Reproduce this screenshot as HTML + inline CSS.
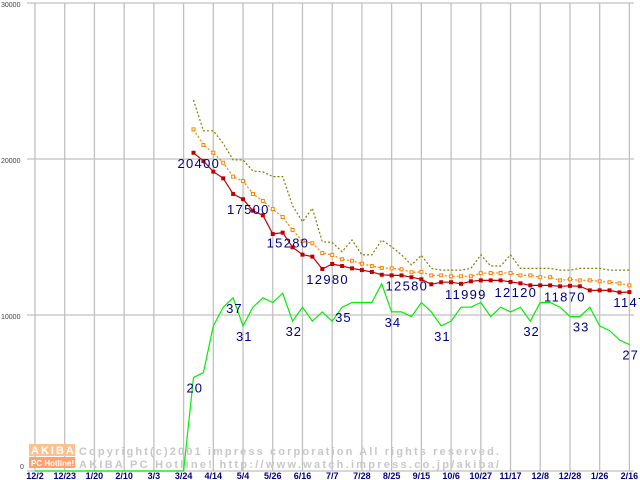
<!DOCTYPE html>
<html><head><meta charset="utf-8"><style>
html,body{margin:0;padding:0;background:#fff;}
svg{display:block;font-family:"Liberation Sans",sans-serif;}
</style></head><body>
<svg id="chart" width="640" height="480" viewBox="0 0 640 480" xmlns="http://www.w3.org/2000/svg">
<rect width="640" height="480" fill="#fff"/>
<g id="grid"></g>
<g id="ylabels"></g>
<g id="xlabels"></g>
<g id="watermark">
<rect x="29" y="444" width="46" height="12" fill="#ffc090"/>
<text x="31" y="454" font-size="11" font-weight="bold" fill="#fff" letter-spacing="2">AKIBA</text>
<rect x="29" y="457" width="46" height="11" fill="#ffa070"/>
<text x="31" y="466" font-size="8" font-weight="bold" fill="#fff">PC Hotline!</text>
<text x="79" y="455" font-size="11" font-weight="bold" fill="#c8c8c8" textLength="420" lengthAdjust="spacing">Copyright(c)2001 impress corporation All rights reserved.</text>
<text x="79" y="468" font-size="11" font-weight="bold" fill="#c8c8c8" textLength="420" lengthAdjust="spacing">AKIBA PC Hotline!  http://www.watch.impress.co.jp/akiba/</text>
</g>
<g id="series"></g>
<g id="labels"></g>
</svg>
<script>
const xTicks = ["12/2","12/23","1/20","2/10","3/3","3/24","4/14","5/4","5/26","6/16","7/7","7/28","8/25","9/15","10/6","10/27","11/17","12/8","12/28","1/26","2/16"];
const yTicks = [0,10000,20000,30000];
const startWeek = 16;
const redValues = [20400,19870,19190,18760,17760,17420,16690,16390,15190,15280,14340,13870,13740,12950,13270,13140,12990,12880,12760,12580,12540,12540,12420,12290,11970,12100,12100,11999,12160,12220,12220,12220,12120,12030,11900,11900,11900,11840,11870,11840,11580,11580,11580,11450,11470];
const orangeValues = [21900,20900,20400,19760,18870,18590,17760,17310,16790,16280,15450,14740,14600,13970,13850,13570,13480,13290,13140,13010,12990,12930,12740,12760,12540,12540,12480,12480,12480,12680,12690,12690,12690,12540,12540,12420,12420,12220,12290,12220,12220,12160,12100,12030,11900];
const oliveValues = [23780,21810,21810,21000,19940,19940,19230,19180,18870,18870,17000,15980,16840,14700,14650,14060,14810,13850,13850,14810,14380,13850,13210,13830,12990,12880,12880,12880,12990,13850,13140,13140,13850,12990,12990,12990,12990,12880,12880,12990,12990,12990,12880,12880,12880];
const greenValues = [0,0,0,0,0,0,0,0,0,0,0,0,0,0,0,0,20,21,31,35,37,31,35,37,36,38,32,35,32,34,32,35,36,36,36,40,34,34,33,36,34,31,32,35,35,36,33,35,34,35,32,36,36,35,33,33,35,31,30,28,27];
const redLabelIdx = [0,5,9,13,21,27,32,37,44];
const redLabelText = ["20400","17500","15280","12980","12580","11999","12120","11870","11470"];
const greenLabelIdx = [0,4,5,10,15,20,25,34,39,44];
const greenLabelText = ["20","37","31","32","35","34","31","32","33","27"];

const NS="http://www.w3.org/2000/svg";
const X0=35, WEEK=(629.4-35)/60, Y0=471, YMAX=30000, H=468;
const xw = w => X0 + w*WEEK;
const yv = v => Y0 - v/YMAX*H;
const yg = g => Y0 - g/100*H;
function mk(tag, attrs, parent){const e=document.createElementNS(NS,tag);for(const k in attrs)e.setAttribute(k,attrs[k]);parent.appendChild(e);return e;}
const grid=document.getElementById('grid'), yl=document.getElementById('ylabels'), xl=document.getElementById('xlabels'), ser=document.getElementById('series'), lab=document.getElementById('labels');

xTicks.forEach((t,i)=>{
  const x=xw(i*3);
  const l=mk('line',{x1:x,x2:x,y1:3,y2:Y0,stroke:'#c0c0c0','stroke-width':1.3},grid);
  
  
  const tx=mk('text',{x:x,y:479,'font-size':9,'font-weight':'bold',fill:'#000080','text-anchor':'middle'},xl);
  tx.textContent=t;
  
  
});
yTicks.forEach(v=>{
  const y=yv(v);
  const l=mk('line',{x1:X0-8,x2:634,y1:y,y2:y,stroke:'#c0c0c0','stroke-width':1.3},grid);
  
  
  const tx=mk('text',{x:v===0?20:1,y:v===0?469:y+4,'font-size':7,fill:'#404040'},yl);
  tx.textContent=String(v);
  
  
});

function pts(arr, off, fy){return arr.map((v,i)=>xw(i+off).toFixed(1)+','+fy(v).toFixed(1)).join(' ');}
const g=mk('polyline',{points:pts(greenValues,0,yg),fill:'none',stroke:'#00ee00','stroke-width':1.2},ser);


const ol=mk('polyline',{points:pts(oliveValues,startWeek,yv),fill:'none',stroke:'#808000','stroke-width':1.2,'stroke-dasharray':'2,2'},ser);


const orl=mk('polyline',{points:pts(orangeValues,startWeek,yv),fill:'none',stroke:'#ff8000','stroke-width':1.2,'stroke-dasharray':'2,2'},ser);


orangeValues.forEach((v,i)=>{
  const r=mk('rect',{x:xw(i+startWeek)-1.5,y:yv(v)-1.5,width:3,height:3,fill:'#fff',stroke:'#ff8000','stroke-width':1},ser);
  
  
});
const rl=mk('polyline',{points:pts(redValues,startWeek,yv),fill:'none',stroke:'#c00000','stroke-width':1.2},ser);


redValues.forEach((v,i)=>{
  const r=mk('rect',{x:xw(i+startWeek)-2,y:yv(v)-2,width:4,height:4,fill:'#c00000'},ser);
  
  
});
redLabelIdx.forEach((idx,k)=>{
  const t=mk('text',{x:xw(idx+startWeek)-16,y:yv(redValues[idx])+15,'font-size':13,fill:'#000080','letter-spacing':1.3},lab);
  t.textContent=redLabelText[k];
  
  
});
greenLabelIdx.forEach((idx,k)=>{
  const t=mk('text',{x:xw(idx+startWeek)-7,y:yg(greenValues[idx+startWeek])+15,'font-size':13,fill:'#000080','letter-spacing':1},lab);
  t.textContent=greenLabelText[k];
  
  
});
</script>
</body></html>
